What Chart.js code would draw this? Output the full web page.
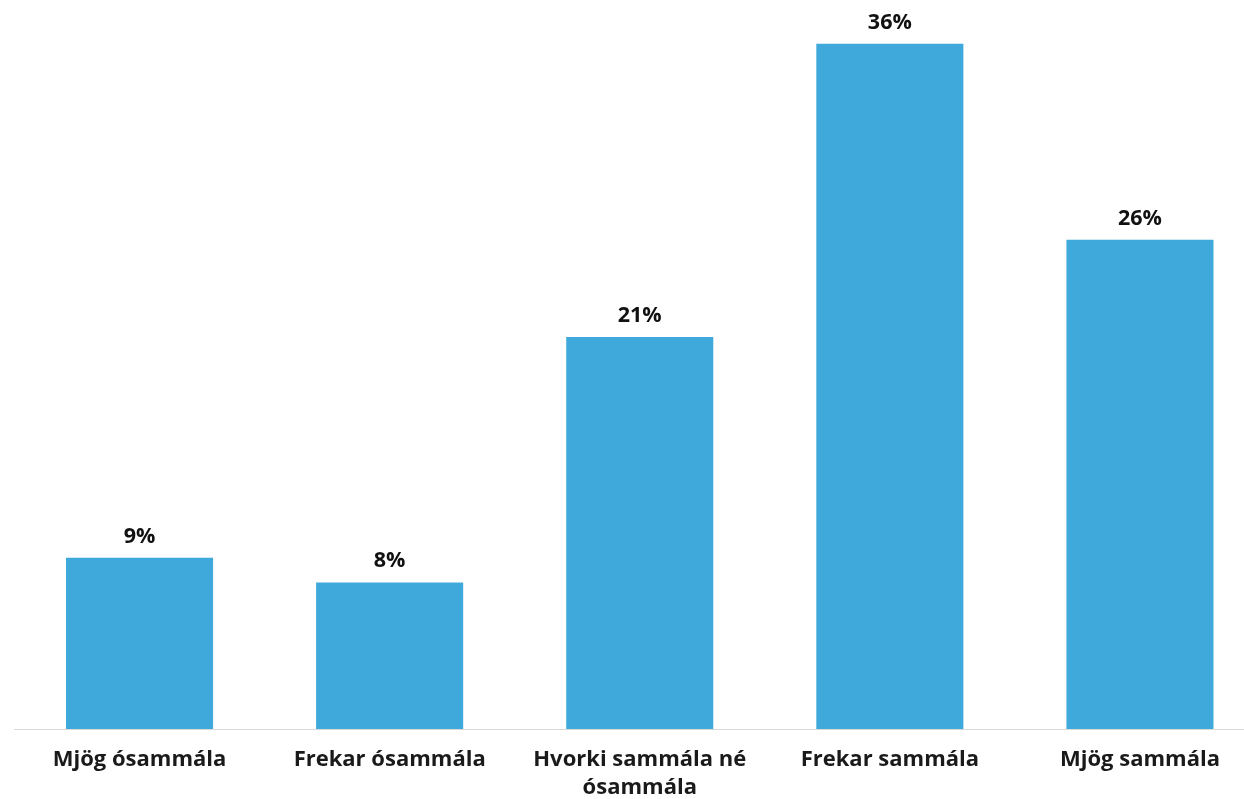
<!DOCTYPE html>
<html>
<head>
<meta charset="utf-8">
<script src="https://cdn.jsdelivr.net/npm/chart.js@4.4.1/dist/chart.umd.min.js"></script>
<style>
  html, body { margin: 0; padding: 0; background: #ffffff; overflow: hidden; }
  #wrap { position: relative; width: 1265px; height: 799px; }
</style>
</head>
<body>
<div id="wrap"><canvas id="c"></canvas></div>
<script>
const categories = [
  "Mjög ósammála",
  "Frekar ósammála",
  ["Hvorki sammála né", "ósammála"],
  "Frekar sammála",
  "Mjög sammála"
];
const values = [9.0, 7.7, 20.6, 36.0, 25.7];
const barColor = "#3EA9DA";
const yMax = 38.3;

const FONT = '"Open Sans", "Liberation Sans", sans-serif';

const valueLabels = {
  id: "valueLabels",
  afterDatasetsDraw(chart) {
    const ctx = chart.ctx;
    const meta = chart.getDatasetMeta(0);
    ctx.save();
    ctx.font = "bold 21.5px " + FONT;
    ctx.fillStyle = "#111111";
    ctx.textAlign = "center";
    ctx.textBaseline = "alphabetic";
    meta.data.forEach((bar, i) => {
      ctx.fillText(Math.round(values[i]) + "%", bar.x, bar.y - 15);
    });
    ctx.restore();
  }
};

new Chart(document.getElementById("c"), {
  type: "bar",
  data: {
    labels: categories,
    datasets: [{
      data: values,
      backgroundColor: barColor,
      borderWidth: 0,
      categoryPercentage: 1.0,
      barPercentage: 0.588
    }]
  },
  options: {
    responsive: true,
    maintainAspectRatio: false,
    animation: false,
    layout: { padding: { left: 14.5, right: 0, top: 0, bottom: 0 } },
    plugins: { legend: { display: false }, tooltip: { enabled: false } },
    scales: {
      x: {
        grid: { display: false, drawTicks: false },
        border: { display: true, color: "#D9D9D9", width: 1 },
        ticks: {
          color: "#1a1a1a",
          font: { family: FONT, size: 22, weight: "bold", lineHeight: 1.25 },
          padding: 17,
          maxRotation: 0,
          autoSkip: false
        },
        afterFit(scale) { scale.height = 70; }
      },
      y: {
        display: false,
        min: 0,
        max: yMax
      }
    }
  },
  plugins: [valueLabels]
});
</script>
</body>
</html>
